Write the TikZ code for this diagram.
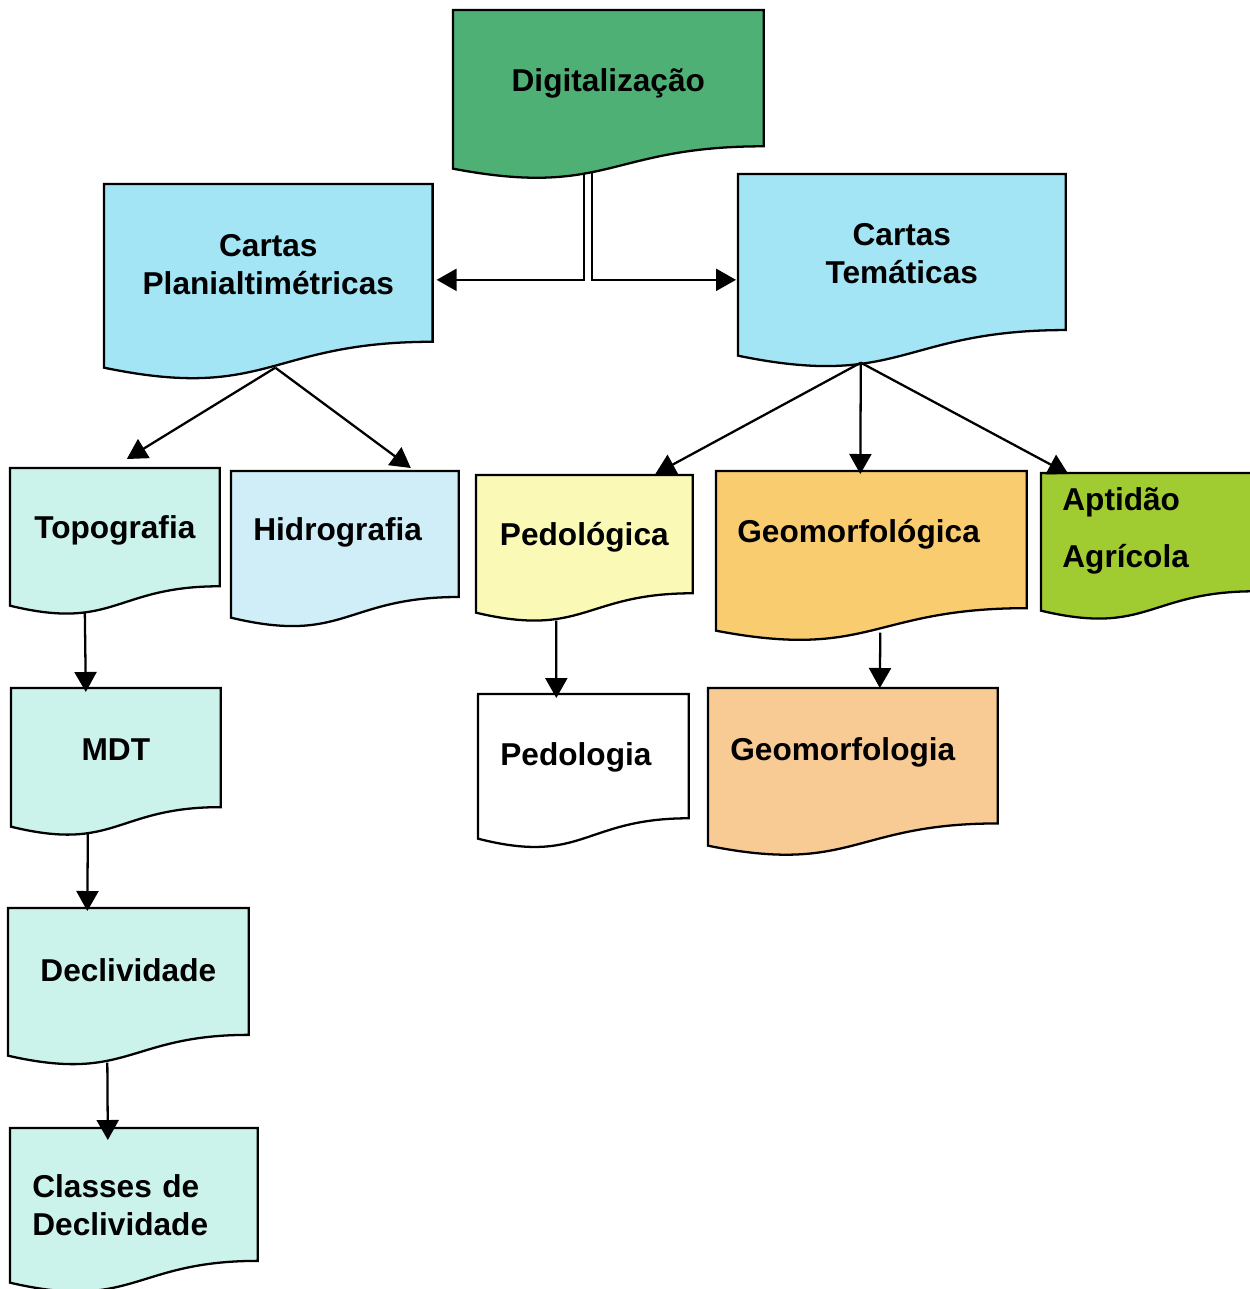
\documentclass[tikz,border=0pt]{standalone}
\usepackage{fontspec}
\setmainfont{Liberation Sans}
\usetikzlibrary{calc,arrows.meta}
\definecolor{verde}{RGB}{78,176,116}
\definecolor{azul}{RGB}{163,228,245}
\definecolor{aqua}{RGB}{204,242,236}
\definecolor{celeste}{RGB}{208,238,248}
\definecolor{amarelo}{RGB}{250,250,182}
\definecolor{laranja}{RGB}{250,204,112}
\definecolor{lima}{RGB}{160,204,50}
\definecolor{salmao}{RGB}{248,202,148}
\pgfdeclarelayer{bg}
\pgfsetlayers{bg,main}
% document shape drawn around a node
\newcommand{\docshape}[2]{%
  \filldraw[fill=#2, line width=1.3pt] (#1.north west) -- (#1.north east)
    -- ($(#1.north east)!0.859!(#1.south east)$)
    .. controls ($(#1.north)!0.859!(#1.south)$) and ($(#1.north)!1.186!(#1.south)$) .. (#1.south west) -- cycle;}

\begin{document}
\begin{tikzpicture}[x=0.02cm, y=-0.02cm,
  doc/.style={rectangle, inner sep=0pt, anchor=north west, align=center,
    font=\fontsize{18}{21.6}\selectfont\bfseries},
  wh/.style 2 args={minimum width=#1, minimum height=#2},
  lift/.style={text depth=#1},
  inset/.style={text width=#1, align=left},
  arr/.style={line width=1.3pt, -{Triangle[length=4mm,width=4.4mm]}}]
\useasboundingbox (0,0) rectangle (1249,1289);

\node[doc, wh={6.2cm}{3.16cm}, lift=10.6pt] (dig) at (453,10) {Digitalização};
\node[doc, wh={6.56cm}{3.66cm}, lift=12.6pt] (cp) at (104,184) {Cartas\\Planialtimétricas};
\node[doc, wh={6.54cm}{3.62cm}, lift=12.6pt] (ct) at (738,174) {Cartas\\Temáticas};

\node[doc, wh={4.18cm}{2.74cm}, lift=10.6pt] (topo) at (10,468) {Topografia};
\node[doc, wh={4.54cm}{2.92cm}, lift=17.4pt, inset=3.66cm] (hid) at (231,471) {Hidrografia};
\node[doc, wh={4.32cm}{2.74cm}, lift=11.8pt] (ped) at (476,475) {Pedológica};
\node[doc, wh={6.2cm}{3.18cm}, lift=23.2pt, inset=5.36cm] (geo) at (716,471) {Geomorfológica};
\node[doc, wh={4.28cm}{2.74cm}, lift=49pt, inset=3.44cm] (apt) at (1041,473) {Aptidão\\[0.38cm]Agrícola};

\node[doc, wh={4.18cm}{2.76cm}, lift=9.2pt] (mdt) at (11,688) {MDT};
\node[doc, wh={4.8cm}{2.94cm}, lift=13.6pt] (decl) at (8,908) {Declividade};
\node[doc, wh={4.94cm}{3.08cm}, inset=4.06cm] (cls) at (10,1128) {Classes de\\Declividade};

\node[doc, wh={4.2cm}{2.88cm}, lift=14pt, inset=3.32cm] (pedo) at (478,694) {Pedologia};
\node[doc, wh={5.78cm}{3.14cm}, lift=19.8pt, inset=4.9cm] (geomo) at (708,688) {Geomorfologia};

\begin{pgfonlayer}{bg}
\foreach \n/\c in {dig/verde, cp/azul, ct/azul, topo/aqua, hid/celeste,
  ped/amarelo, geo/laranja, apt/lima, mdt/aqua, decl/aqua, cls/aqua,
  pedo/white, geomo/salmao}
  {\docshape{\n}{\c}}
\end{pgfonlayer}

\draw[arr] ($(dig.south)+(-24,4)$) |- ($(cp.east)+(4,4)$);
\draw[arr] ($(dig.south)+(-16,4)$) |- ($(ct.west)+(-2,15)$);

\draw[arr] ($(cp.south)+(7,0)$) -- ($(topo.north)+(12,-9)$);
\draw[arr] ($(cp.south)+(7,0)$) -- ($(hid.north)+(66,-3)$);

\draw[arr] ($(ct.south)+(-41,7)$) -- ($(ped.north)+(71,-1)$);
\draw[arr] ($(ct.south)+(-41,7)$) -- ($(geo.north)+(-11,3)$);
\draw[arr] ($(ct.south)+(-41,7)$) -- ($(apt.north)+(-80,1)$);

\draw[arr] ($(topo.south)+(-30,7)$) -- ($(mdt.north)+(-30,4)$);
\draw[arr] ($(mdt.south)+(-28,7)$) -- ($(decl.north)+(-41,3)$);
\draw[arr] ($(decl.south)+(-21,7)$) -- ($(cls.north)+(-26,12)$);

\draw[arr] ($(ped.south)+(-28,8)$) -- ($(pedo.north)+(-27,4)$);
\draw[arr] ($(geo.south)+(9,2)$) -- ($(geomo.north)+(27,0)$);

\end{tikzpicture}
\end{document}
